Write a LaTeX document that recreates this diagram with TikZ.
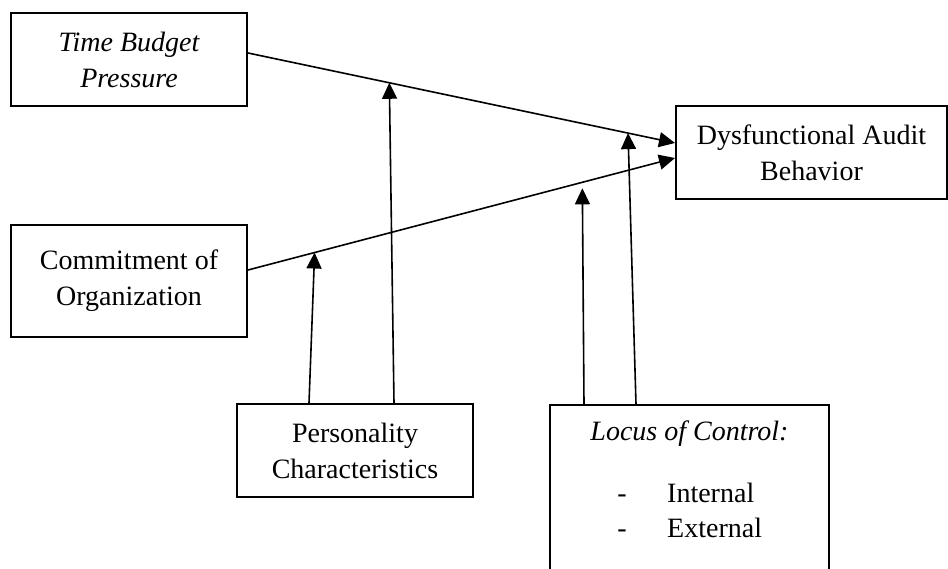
\documentclass[tikz,border=0pt]{standalone}
\usepackage{fontspec}
\setmainfont{Liberation Serif}
\usetikzlibrary{arrows.meta,calc}
\tikzset{
  box/.style={draw=black, line width=2pt, rectangle, inner sep=0pt, align=center,
    font=\fontsize{28}{36}\selectfont},
  lbl/.style={inner sep=0pt, font=\fontsize{28}{36}\selectfont},
  arr/.style={line width=1.6pt, -{Triangle[length=16pt,width=15pt]}},
}
\begin{document}
\begin{tikzpicture}[x=1pt,y=-1pt]
\clip (0,0) rectangle (948,569);
\useasboundingbox (0,0) rectangle (948,569);
\node[box, minimum width=236pt, minimum height=93pt] (tbp) at (129,59.5) {\itshape Time Budget\\\itshape Pressure};
\node[box, minimum width=236pt, minimum height=112pt] (coo) at (129,281) {Commitment of\\Organization};
\node[box, minimum width=271pt, minimum height=93pt] (dab) at (811.5,152.5) {Dysfunctional Audit\\Behavior};
\node[box, minimum width=236pt, minimum height=93pt] (pc) at (355,450.5) {Personality\\Characteristics};
\node[box, anchor=north, minimum width=279pt, minimum height=220pt] (loc) at (689.5,404) {};
\node[lbl, anchor=base] (loct) at (689.5,440) {\itshape Locus of Control:};
\node[lbl, anchor=base] (d1) at (622,502) {-};
\node[lbl, anchor=base west] (int) at (667,502) {Internal};
\node[lbl, anchor=base] (d2) at (622,537) {-};
\node[lbl, anchor=base west] (ext) at (667,537) {External};

\draw[arr] ([yshift=6.5pt]tbp.east) -- ([yshift=9.5pt]dab.west)
  coordinate[pos=0.331] (t1) coordinate[pos=0.890] (t2);
\draw[arr] ([yshift=11pt]coo.east) -- ([yshift=-5.5pt]dab.west)
  coordinate[pos=0.156] (c1) coordinate[pos=0.783] (c2);

\draw[arr] ([xshift=-46pt]pc.north) -- (c1);
\draw[arr] ([xshift=39pt]pc.north) -- (t1);
\draw[arr] ([xshift=-105.5pt]loc.north) -- ([yshift=-6pt]c2);
\draw[arr] ([xshift=-53.5pt]loc.north) -- (t2);
\end{tikzpicture}
\end{document}
